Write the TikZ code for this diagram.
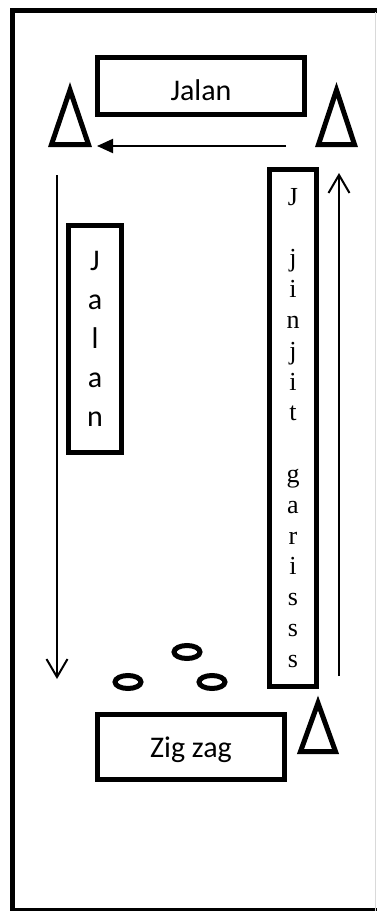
\documentclass[tikz,border=0pt]{standalone}
\usepackage{fontspec}
\setmainfont{Carlito}
\newfontfamily\timesfont{Liberation Serif}
\usetikzlibrary{shapes.geometric, arrows.meta}
\tikzstyle{board} = [
    rectangle,
    inner sep=0pt,
    line width=5pt,
    draw=black,
    align=center,
    font=\fontsize{30}{39}\selectfont
]
\tikzstyle{cone} = [
    line width=5pt,
    line join=miter,
    draw=black
]
\tikzstyle{ring} = [
    line width=5pt,
    draw=black
]
\tikzstyle{arrowfill} = [line width=2pt,-{Triangle[length=16pt,width=14pt]}]
\tikzstyle{arrowopen} = [line width=2pt,-{Straight Barb[length=18pt,width=21pt]}]

\begin{document}
\begin{tikzpicture}[x=1pt, y=-1pt]
\useasboundingbox (0,0) rectangle (376,911);

% frame
\draw [line width=5pt] (12.5,10) rectangle (390,910);
\draw [black!15, line width=1pt] (375.5,12) -- (375.5,911);

\node (jalantop) [board, minimum width=207pt, minimum height=57pt,
    text height=29pt, text depth=0pt] at (201,86) {Jalan};

\node (jalanside) [board, minimum width=53pt, minimum height=227pt] at (95,339)
{J\\a\\l\\a\\n};

\node (jinjit) [board, minimum width=47pt, minimum height=517pt,
    font=\timesfont\fontsize{26}{30.8}\selectfont] at (293,428)
{J\\[30.8pt]j\\i\\n\\j\\i\\t\\[30.8pt]g\\a\\r\\i\\s\\s\\s};

\node (zigzag) [board, minimum width=187pt, minimum height=65pt,
    text height=26pt, text depth=6pt] at (191,747) {Zig zag};

% cones
\draw [cone] (70,90) -- (88.5,144.5) -- (51.5,144.5) -- cycle;
\draw [cone] (336.5,90) -- (354.5,144.5) -- (318.5,144.5) -- cycle;
\draw [cone] (318,703) -- (335.5,751.5) -- (300.5,751.5) -- cycle;

% zig zag rings
\draw [ring] (187,652) ellipse [x radius=13, y radius=6.5];
\draw [ring] (128,682) ellipse [x radius=13, y radius=6.5];
\draw [ring] (212,682) ellipse [x radius=13, y radius=6.5];

% route
\coordinate (topstart) at (286,146);
\coordinate (topend) at (97,146);
\coordinate (leftstart) at (57,175);
\coordinate (leftend) at (57,679);
\coordinate (rightstart) at (339,676);
\coordinate (rightend) at (339,173);

\draw [arrowfill] (topstart) -- (topend);
\draw [arrowopen] (leftstart) -- (leftend);
\draw [arrowopen] (rightstart) -- (rightend);

\end{tikzpicture}
\end{document}
